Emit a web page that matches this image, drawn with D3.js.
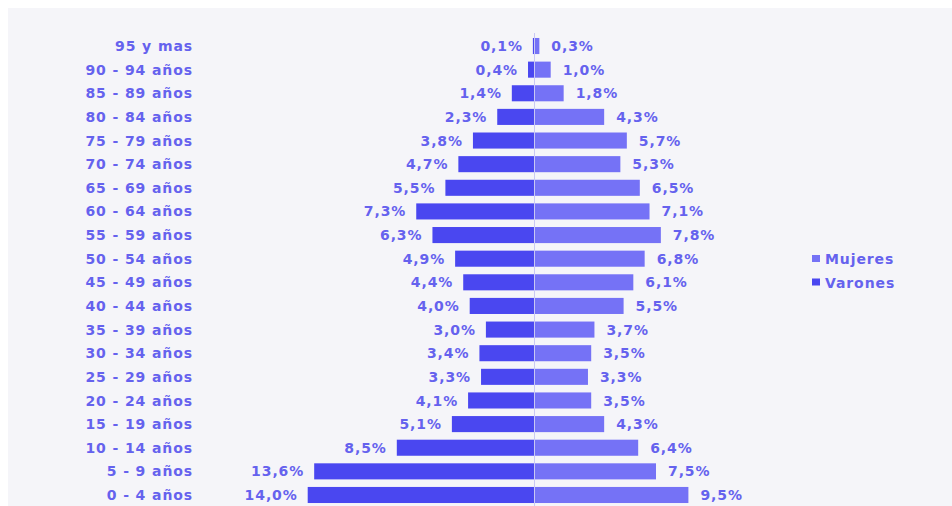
<!DOCTYPE html>
<html>
<head>
<meta charset="utf-8">
<script src="https://cdn.jsdelivr.net/npm/d3@7/dist/d3.min.js"></script>
<style>
  html, body { margin: 0; padding: 0; background: #ffffff; }
  svg { display: block; }
  text { font-family: "DejaVu Sans", Verdana, sans-serif; font-weight: bold; }
</style>
</head>
<body>
<svg id="chart" width="952" height="506"></svg>
<script>
const categories = ["95 y mas","90 - 94 años","85 - 89 años","80 - 84 años","75 - 79 años","70 - 74 años","65 - 69 años","60 - 64 años","55 - 59 años","50 - 54 años","45 - 49 años","40 - 44 años","35 - 39 años","30 - 34 años","25 - 29 años","20 - 24 años","15 - 19 años","10 - 14 años","5 - 9 años","0 - 4 años"];
const varones = [0.1,0.4,1.4,2.3,3.8,4.7,5.5,7.3,6.3,4.9,4.4,4.0,3.0,3.4,3.3,4.1,5.1,8.5,13.6,14.0];
const mujeres = [0.3,1.0,1.8,4.3,5.7,5.3,6.5,7.1,7.8,6.8,6.1,5.5,3.7,3.5,3.3,3.5,4.3,6.4,7.5,9.5];
const seriesNames = ["Mujeres","Varones"];

const colVar = "#4a47f0", colMuj = "#7572f6", colText = "#6562ee";
const svg = d3.select("#chart");

svg.append("rect").attr("x", 8).attr("y", 8).attr("width", 944).attr("height", 498).attr("fill", "#f5f5f9");

const cx = 534.5;
const y = d3.scaleBand().domain(categories).range([34.2, 506.8]).paddingInner(0.32).paddingOuter(0.16);
const xR = d3.scaleLinear().domain([0, 15]).range([cx, cx + 243]);
const xL = d3.scaleLinear().domain([0, 15]).range([cx, cx - 243]);
const fmt = v => d3.format(".1f")(v).replace(".", ",") + "%";

const rows = categories.map((c, i) => ({c, v: varones[i], m: mujeres[i]}));

// left bars (Varones)
svg.append("g").selectAll("rect").data(rows).join("rect")
  .attr("x", d => xL(d.v)).attr("y", d => y(d.c))
  .attr("width", d => cx - xL(d.v)).attr("height", y.bandwidth())
  .attr("fill", colVar);
// right bars (Mujeres)
svg.append("g").selectAll("rect").data(rows).join("rect")
  .attr("x", cx).attr("y", d => y(d.c))
  .attr("width", d => xR(d.m) - cx).attr("height", y.bandwidth())
  .attr("fill", colMuj);

// center line
svg.append("line").attr("x1", cx).attr("x2", cx).attr("y1", 33).attr("y2", 506)
  .attr("stroke", "#c9c8f4").attr("stroke-width", 1);

const fs = 14, ls = 0.9;
// category labels
svg.append("g").selectAll("text").data(rows).join("text")
  .attr("x", 193).attr("y", d => y(d.c) + y.bandwidth() / 2)
  .attr("dy", "0.36em").attr("text-anchor", "end")
  .attr("font-size", fs).attr("letter-spacing", ls).attr("fill", colText)
  .text(d => d.c);
// left value labels
svg.append("g").selectAll("text").data(rows).join("text")
  .attr("x", d => xL(d.v) - 10).attr("y", d => y(d.c) + y.bandwidth() / 2)
  .attr("dy", "0.36em").attr("text-anchor", "end")
  .attr("font-size", fs).attr("letter-spacing", ls).attr("fill", colText)
  .text(d => fmt(d.v));
// right value labels
svg.append("g").selectAll("text").data(rows).join("text")
  .attr("x", d => xR(d.m) + 12).attr("y", d => y(d.c) + y.bandwidth() / 2)
  .attr("dy", "0.36em").attr("text-anchor", "start")
  .attr("font-size", fs).attr("letter-spacing", ls).attr("fill", colText)
  .text(d => fmt(d.m));

// legend
const legend = svg.append("g");
const legColors = [colMuj, colVar];
seriesNames.forEach((n, i) => {
  const ly = 259 + i * 23.5;
  legend.append("rect").attr("x", 812).attr("y", ly - 4).attr("width", 8).attr("height", 7).attr("fill", legColors[i]);
  legend.append("text").attr("x", 825).attr("y", ly).attr("dy", "0.36em")
    .attr("font-size", fs).attr("letter-spacing", ls).attr("fill", colText).text(n);
});
</script>
</body>
</html>
